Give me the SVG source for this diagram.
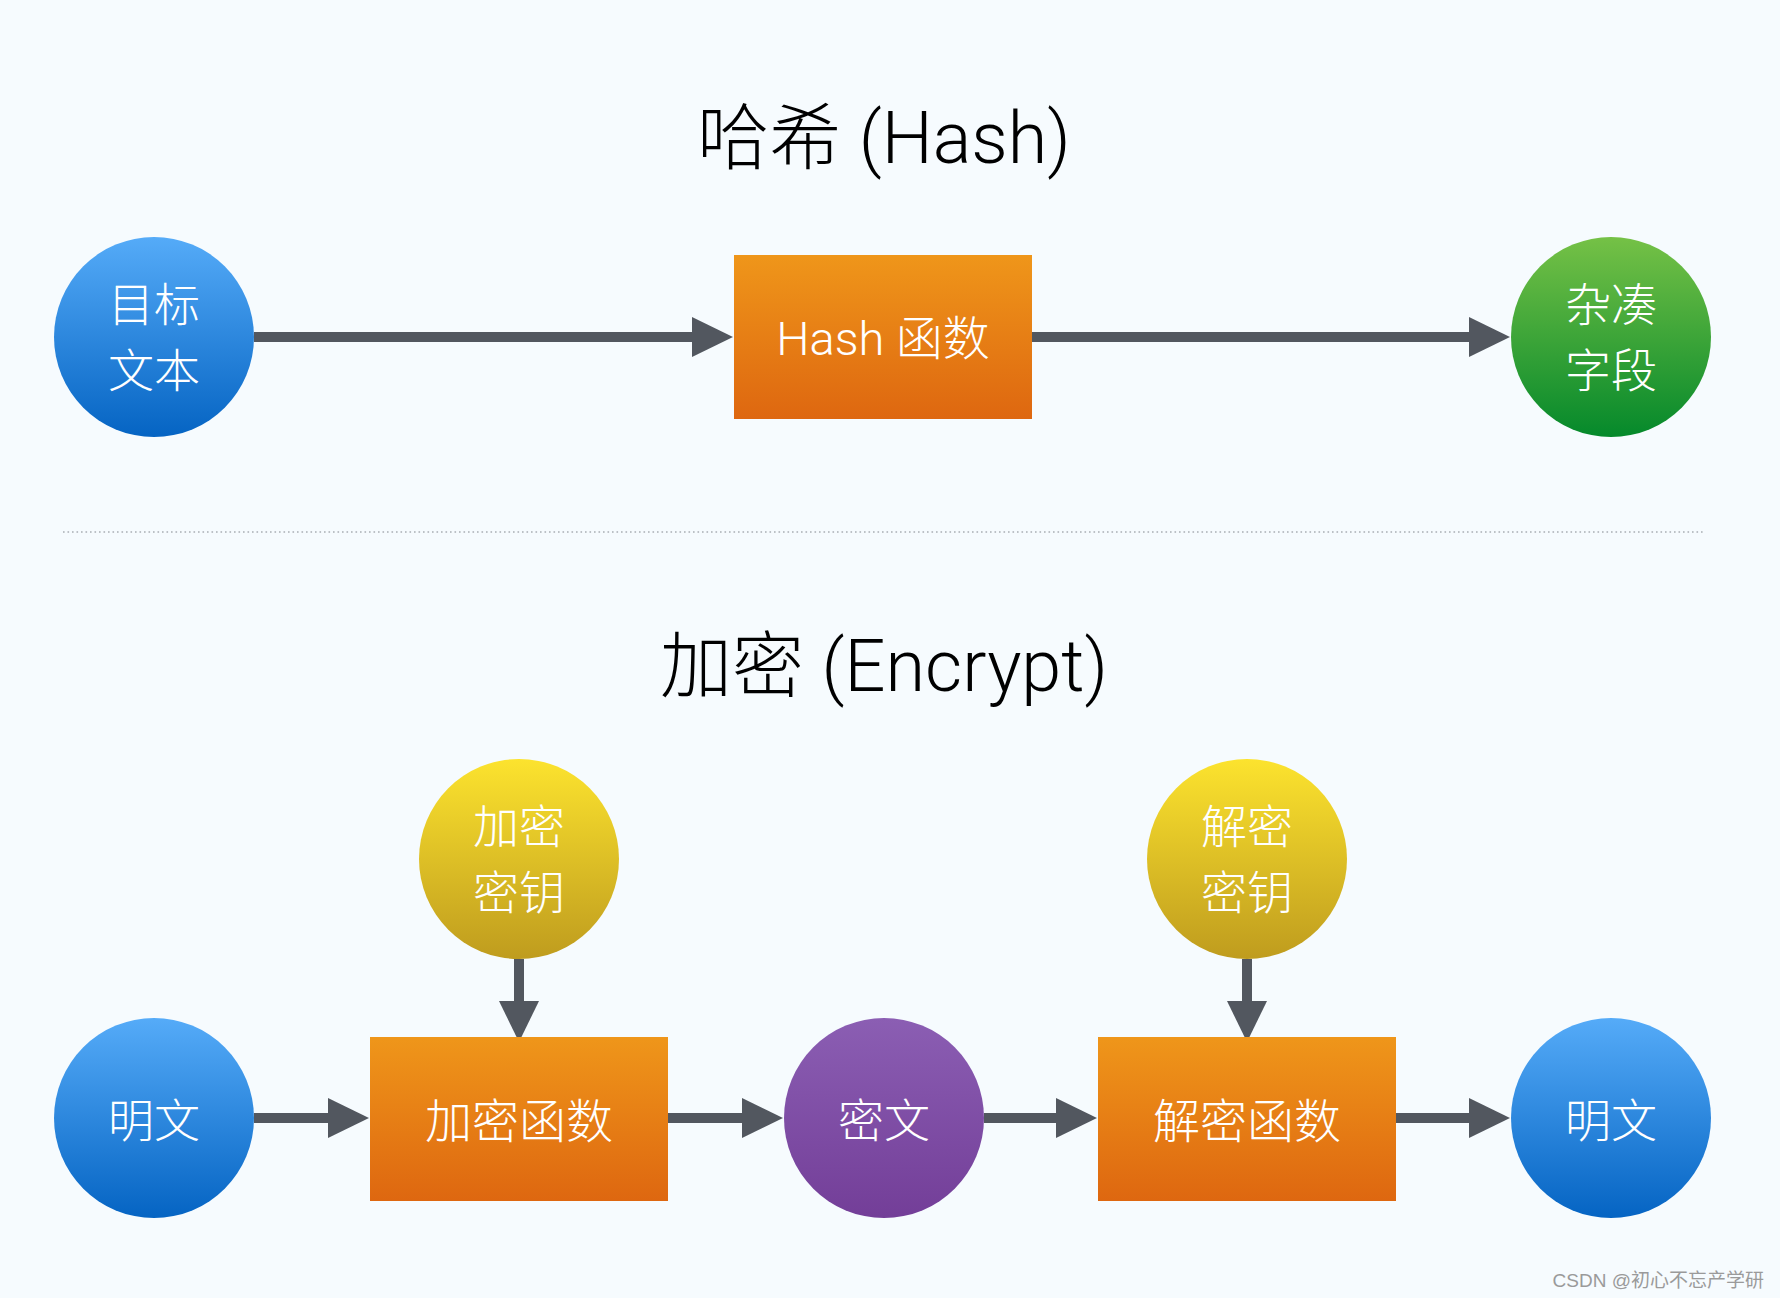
<svg xmlns="http://www.w3.org/2000/svg" width="1780" height="1298" viewBox="0 0 1780 1298">
<defs>
<linearGradient id="gBlue" x1="0" y1="0" x2="0" y2="1"><stop offset="0" stop-color="#55abf8"/><stop offset="1" stop-color="#0564c3"/></linearGradient>
<linearGradient id="gGreen" x1="0" y1="0" x2="0" y2="1"><stop offset="0" stop-color="#75c146"/><stop offset="1" stop-color="#05892b"/></linearGradient>
<linearGradient id="gYellow" x1="0" y1="0" x2="0" y2="1"><stop offset="0" stop-color="#fce32e"/><stop offset="1" stop-color="#bf9c1e"/></linearGradient>
<linearGradient id="gPurple" x1="0" y1="0" x2="0" y2="1"><stop offset="0" stop-color="#8b5eb3"/><stop offset="1" stop-color="#733e98"/></linearGradient>
<linearGradient id="gOrange" x1="0" y1="0" x2="0" y2="1"><stop offset="0" stop-color="#ef961a"/><stop offset="1" stop-color="#de6710"/></linearGradient>
<marker id="ah" viewBox="0 0 41 40" refX="1" refY="20" markerWidth="41" markerHeight="40" orient="auto" markerUnits="userSpaceOnUse">
<path d="M0,0 L41,20 L0,40 Z" fill="#52575f"/>
</marker>
</defs>
<style>
.bg{fill:#f6fbfe}
.title{font-family:"Roboto","Noto Sans CJK SC",sans-serif;font-weight:300;font-size:72px;fill:#000;text-anchor:middle}
.lbl{font-family:"Roboto","Noto Sans CJK SC",sans-serif;font-weight:300;font-size:46px;fill:#fff;text-anchor:middle}
.blbl{font-family:"Roboto","Noto Sans CJK SC",sans-serif;font-weight:300;font-size:47px;fill:#fff;text-anchor:middle}
.conn{stroke:#52575f;stroke-width:10;fill:none;marker-end:url(#ah)}
.sep{stroke:#a9aeb4;stroke-width:1.6;stroke-dasharray:1.6 2.9;fill:none}
.wm{font-family:"Liberation Sans","Noto Sans CJK SC",sans-serif;font-size:19px;fill:#9a9a9a;text-anchor:end}
</style>
<rect class="bg" x="0" y="0" width="1780" height="1298"/>
<text class="title" x="884" y="163">哈希 (Hash)</text>
<text class="title" x="884" y="691">加密 (Encrypt)</text>
<line class="sep" x1="63" y1="532" x2="1704" y2="532"/>
<g id="connectors">
<line class="conn" x1="254" y1="337" x2="693" y2="337"/>
<line class="conn" x1="1032" y1="337" x2="1470" y2="337"/>
<line class="conn" x1="254" y1="1118" x2="329" y2="1118"/>
<line class="conn" x1="668" y1="1118" x2="743" y2="1118"/>
<line class="conn" x1="984" y1="1118" x2="1057" y2="1118"/>
<line class="conn" x1="1396" y1="1118" x2="1470" y2="1118"/>
<line class="conn" x1="519" y1="959" x2="519" y2="1002"/>
<line class="conn" x1="1247" y1="959" x2="1247" y2="1002"/>
</g>
<g id="n-target">
<circle cx="154" cy="337" r="100" fill="url(#gBlue)"/>
<text class="lbl" x="154" y="321">目标</text>
<text class="lbl" x="154" y="387">文本</text>
</g>
<g id="n-hashfn">
<rect x="734" y="255" width="298" height="164" fill="url(#gOrange)"/>
<text class="blbl" x="883" y="355">Hash 函数</text>
</g>
<g id="n-digest">
<circle cx="1611" cy="337" r="100" fill="url(#gGreen)"/>
<text class="lbl" x="1611" y="321">杂凑</text>
<text class="lbl" x="1611" y="387">字段</text>
</g>
<g id="n-enckey">
<circle cx="519" cy="859" r="100" fill="url(#gYellow)"/>
<text class="lbl" x="519" y="843">加密</text>
<text class="lbl" x="519" y="909">密钥</text>
</g>
<g id="n-deckey">
<circle cx="1247" cy="859" r="100" fill="url(#gYellow)"/>
<text class="lbl" x="1247" y="843">解密</text>
<text class="lbl" x="1247" y="909">密钥</text>
</g>
<g id="n-plain1">
<circle cx="154" cy="1118" r="100" fill="url(#gBlue)"/>
<text class="lbl" x="154" y="1137">明文</text>
</g>
<g id="n-encfn">
<rect x="370" y="1037" width="298" height="164" fill="url(#gOrange)"/>
<text class="blbl" x="519" y="1138">加密函数</text>
</g>
<g id="n-cipher">
<circle cx="884" cy="1118" r="100" fill="url(#gPurple)"/>
<text class="lbl" x="884" y="1137">密文</text>
</g>
<g id="n-decfn">
<rect x="1098" y="1037" width="298" height="164" fill="url(#gOrange)"/>
<text class="blbl" x="1247" y="1138">解密函数</text>
</g>
<g id="n-plain2">
<circle cx="1611" cy="1118" r="100" fill="url(#gBlue)"/>
<text class="lbl" x="1611" y="1137">明文</text>
</g>
<text class="wm" x="1764" y="1287">CSDN @初心不忘产学研</text>
</svg>
